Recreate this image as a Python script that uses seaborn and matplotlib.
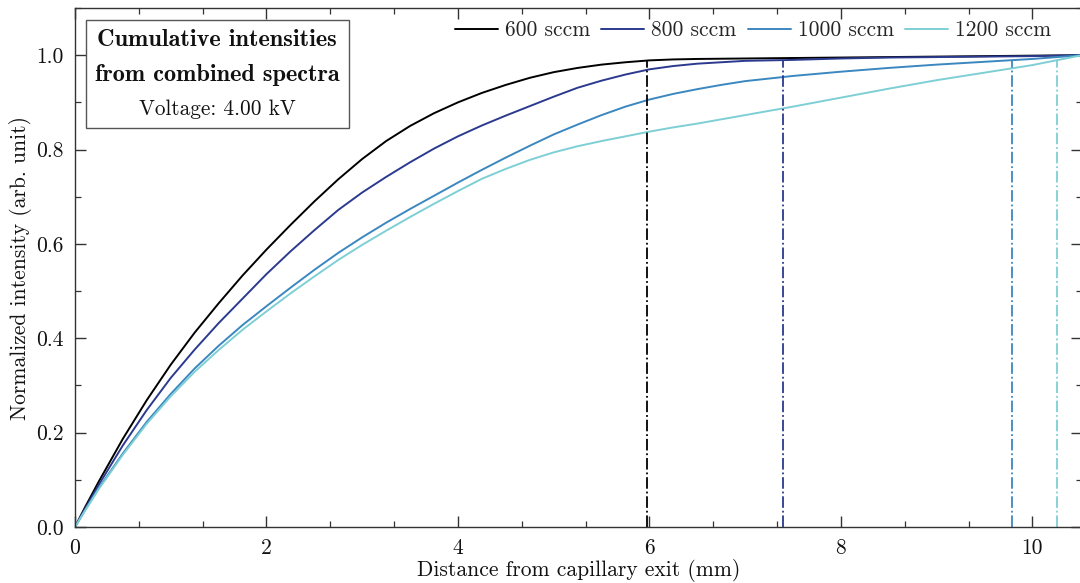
import numpy as np
import pandas as pd
import matplotlib
matplotlib.use("Agg")
import matplotlib.pyplot as plt
from matplotlib.ticker import MultipleLocator, AutoMinorLocator, FuncFormatter
from matplotlib.offsetbox import TextArea, VPacker, AnchoredOffsetbox
import seaborn as sns

# Distance grid (mm) along the plume
distance = [0.0, 0.1,
            0.25, 0.5, 0.75, 1.0, 1.25, 1.5, 1.75, 2.0, 2.25, 2.5, 2.75, 3.0,
            3.25, 3.5, 3.75, 4.0, 4.25, 4.5, 4.75, 5.0, 5.25, 5.5, 5.75, 6.0,
            6.25, 6.5, 6.75, 7.0,
            7.5, 8.0, 8.5, 9.0, 9.5, 10.0,
            10.52]

# Cumulative normalized intensity for each gas flow
flows = ["600 sccm", "800 sccm", "1000 sccm", "1200 sccm"]
cum_600 = [0.0, 0.040,
           0.097, 0.187, 0.269, 0.344, 0.412, 0.474, 0.533, 0.588, 0.640, 0.690,
           0.737, 0.780, 0.818, 0.850, 0.877, 0.900, 0.920, 0.937, 0.952, 0.964,
           0.973, 0.980, 0.985, 0.989, 0.991, 0.992, 0.9925, 0.993,
           0.994, 0.995, 0.996, 0.997, 0.998, 0.999,
           1.0]
cum_800 = [0.0, 0.037,
           0.090, 0.173, 0.248, 0.316, 0.376, 0.432, 0.484, 0.536, 0.584, 0.629,
           0.672, 0.709, 0.742, 0.773, 0.802, 0.828, 0.851, 0.872, 0.892, 0.912,
           0.931, 0.946, 0.959, 0.970, 0.977, 0.982, 0.985, 0.988,
           0.990, 0.993, 0.995, 0.996, 0.997, 0.998,
           1.0]
cum_1000 = [0.0, 0.034,
            0.083, 0.156, 0.223, 0.282, 0.336, 0.384, 0.428, 0.468, 0.507, 0.545,
            0.581, 0.614, 0.645, 0.674, 0.702, 0.730, 0.757, 0.783, 0.808, 0.832,
            0.853, 0.873, 0.891, 0.906, 0.918, 0.928, 0.937, 0.945,
            0.956, 0.965, 0.973, 0.980, 0.986, 0.992,
            1.0]
cum_1200 = [0.0, 0.033,
            0.081, 0.153, 0.219, 0.277, 0.329, 0.375, 0.418, 0.457, 0.495, 0.531,
            0.566, 0.598, 0.628, 0.657, 0.685, 0.712, 0.738, 0.759, 0.778, 0.794,
            0.807, 0.818, 0.828, 0.838, 0.847, 0.855, 0.864, 0.873,
            0.891, 0.910, 0.929, 0.947, 0.963, 0.979,
            1.0]

# Distance at which 99 % of the intensity is reached
d99 = [5.97, 7.40, 9.79, 10.26]
level99 = 0.99

colors = ["#000000", "#2b3a8e", "#3b87c0", "#7ecfd5"]

sns.set_theme(style="ticks")
plt.rcParams["font.family"] = ["cmr10", "DejaVu Serif"]
plt.rcParams["mathtext.fontset"] = "cm"
plt.rcParams["axes.formatter.use_mathtext"] = True
plt.rcParams["axes.unicode_minus"] = False

df = pd.concat(
    [pd.DataFrame({"distance": distance, "intensity": vals, "flow": name})
     for name, vals in zip(flows, [cum_600, cum_800, cum_1000, cum_1200])],
    ignore_index=True,
)

fig = plt.figure(figsize=(10.8, 5.83), dpi=100)
ax = fig.add_axes([75 / 1080, 56 / 583, 1 - 75 / 1080 + 0.002, (527 - 8) / 583])

sns.lineplot(data=df, x="distance", y="intensity", hue="flow", hue_order=flows,
             palette=colors, estimator=None, sort=False, linewidth=1.4, ax=ax,
             legend=False)

ax.vlines(d99, 0, level99, colors=colors, linestyles="dashdot", linewidth=1.3)

ax.set_xlim(0, distance[-1])
ax.set_ylim(0, 1.1)
ax.xaxis.set_major_locator(MultipleLocator(2))
ax.xaxis.set_minor_locator(AutoMinorLocator(3))
ax.yaxis.set_major_locator(MultipleLocator(0.2))
ax.yaxis.set_minor_locator(AutoMinorLocator(2))
ax.xaxis.set_major_formatter(FuncFormatter(lambda v, p: f"{v:g}"))
ax.yaxis.set_major_formatter(FuncFormatter(lambda v, p: f"{v:.1f}"))

ax.tick_params(which="both", direction="in", top=True, right=True,
               color="#333333", labelsize=15.5, labelcolor="#111111")
ax.tick_params(which="major", length=8, width=1.0, pad=8)
ax.tick_params(which="minor", length=4.5, width=0.9)
for s in ax.spines.values():
    s.set_color("#333333")
    s.set_linewidth(1.0)

ax.set_xlabel("Distance from capillary exit (mm)", fontsize=15.5, labelpad=1,
              color="#111111")
ax.set_ylabel("Normalized intensity (arb. unit)", fontsize=15.5, labelpad=3,
              color="#111111")

handles = ax.get_lines()[:4]
ax.legend(handles, flows, loc="upper right", ncol=4, frameon=False, fontsize=15.5,
          handlelength=2.0, handletextpad=0.33, columnspacing=0.5,
          borderaxespad=0.2, bbox_to_anchor=(0.982, 1.0))

# Title box with bold heading and voltage line
t1 = TextArea("Cumulative intensities",
              textprops=dict(fontsize=17.5, family="cmb10", color="#111111"))
t2 = TextArea("from combined spectra",
              textprops=dict(fontsize=17.5, family="cmb10", color="#111111"))
t3 = TextArea("Voltage: 4.00 kV",
              textprops=dict(fontsize=15.3, family="cmr10", color="#111111"))
pack = VPacker(children=[t1, t2, t3], align="center", pad=0, sep=9.5)
box = AnchoredOffsetbox(loc="upper left", child=pack, pad=0.65, frameon=True,
                        prop=dict(size=10),
                        bbox_to_anchor=(11 / 1005, (519 - 12) / 519),
                        bbox_transform=ax.transAxes, borderpad=0)
box.patch.set_edgecolor("#555555")
box.patch.set_linewidth(1.0)
box.patch.set_boxstyle("square", pad=0)
ax.add_artist(box)

fig.savefig("out.png", dpi=100)
